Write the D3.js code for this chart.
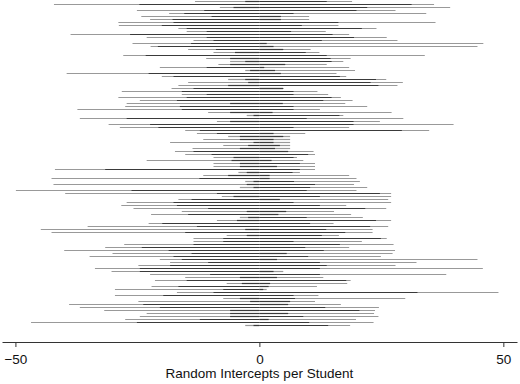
<!DOCTYPE html>
<html><head><meta charset="utf-8">
<script src="https://cdn.jsdelivr.net/npm/d3@7"></script>
<style>html,body{margin:0;padding:0;background:#fff;}svg{display:block;}</style>
</head><body>
<svg id="chart" width="520" height="384"></svg>
<script>
// Longest (outer) negative intercept per student row, top to bottom
const leftOuter = [
-13.2,-42.1,-8.1,-25.1,-18.5,-24.2,-22.4,-28.9,-28.8,-16.6,
-14.9,-38.7,-23.1,-13.5,-26.0,-22.3,-14.6,-9.4,-27.9,-10.9,
-6.0,-8.4,-20.4,-2.9,-39.5,-20.0,-6.4,-14.6,-16.6,-18.0,
-28.2,-15.9,-28.9,-24.5,-27.2,-27.5,-37.3,-10.5,-2.6,-36.8,
-8.7,-30.9,-28.6,-15.2,-12.8,-6.4,-11.5,-18.3,-7.4,-13.7,
-17.3,-15.2,-9.4,-23.1,-9.4,-9.4,-41.9,-4.3,-11.5,-42.6,
-2.9,-42.2,-4.0,-49.9,-39.8,-7.7,-16.6,-27.2,-28.3,-25.8,
-15.9,-22.2,-4.0,-8.7,-22.7,-35.2,-44.8,-42.6,-6.7,-13.5,
-13.5,-27.7,-31.6,-40.0,-30.1,-34.8,-20.4,-18.3,-24.8,-33.7,
-30.3,-22.4,-15.2,-21.4,-6.7,-22.1,-29.6,-16.9,-29.6,-7.4,
-24.8,-39.0,-36.8,-31.8,-23.1,-24.5,-27.5,-46.8,-2.9];
// Shorter (inner, overlapping) negative intercepts
const leftInner = [
-2.9,-24.6,-5.3,-11.3,-15.4,-9.8,-17.8,-17.6,-20.0,-14.9,
-10.8,-26.5,-10.8,-9.4,-14.0,-20.8,-8.9,-5.0,-23.3,-6.0,
-2.9,-6.0,-10.8,-1.9,-22.7,-17.6,-2.9,-2.3,-6.4,-13.5,
-15.9,-10.8,-14.9,-16.9,-6.0,-16.3,-15.9,-6.0,-1.2,-27.2,
-6.0,-22.4,-20.7,-12.2,-8.7,-4.0,-4.0,-1.2,-2.3,-4.0,
-13.5,-9.8,-5.3,-5.7,-4.0,-4.0,-31.6,-2.6,-6.4,-12.3,
-1.2,-2.6,-1.2,-26.2,-8.7,-5.3,-13.9,-17.6,-16.9,-10.5,
-2.6,-14.6,-2.3,-4.6,-19.9,-12.8,-2.9,-15.2,-2.6,-7.4,
-7.4,-13.5,-24.1,-18.6,-13.9,-17.6,-15.9,-10.5,-18.3,-24.5,
-24.5,-10.1,-4.0,-14.9,-3.6,-16.6,-7.4,-9.4,-19.7,-4.0,
-1.9,-23.8,-20.4,-6.0,-6.0,-6.0,-12.2,-25.1,-1.2];
// Longest (outer) positive intercept per student row
const rightOuter = [
19.0,35.8,39.1,27.9,34.2,10.2,10.2,36.1,16.2,24.0,
13.6,18.4,26.1,28.3,45.9,44.7,10.5,12.3,33.9,18.7,
17.2,13.8,18.4,19.6,15.8,17.8,26.0,29.4,28.3,4.9,
11.9,14.1,16.7,19.1,17.6,22.1,12.4,27.1,17.2,29.5,
24.7,39.8,18.4,34.8,9.4,6.3,6.3,6.3,6.3,6.3,
11.1,11.4,7.7,9.0,11.4,11.4,11.4,8.3,18.4,19.9,
20.6,19.4,22.1,19.9,27.0,27.0,26.4,27.0,17.8,26.0,
15.3,18.8,21.2,27.0,15.2,26.4,23.2,23.2,16.3,26.1,
21.0,27.5,18.4,27.8,27.3,24.9,44.7,32.2,27.9,45.8,
4.9,38.3,13.1,18.7,18.0,11.8,1.5,49.0,12.1,29.9,
11.4,16.7,24.5,23.7,23.5,24.4,19.8,23.4,18.6];
// Shorter (inner, overlapping) positive intercepts
const rightInner = [
13.8,31.2,22.1,19.9,7.0,4.4,4.4,16.2,8.7,21.0,
6.5,15.0,19.4,12.8,1.5,2.9,4.9,9.5,13.8,14.6,
14.8,5.3,1.0,3.2,4.4,16.5,23.9,22.8,24.4,4.9,
7.0,7.0,14.8,13.1,4.8,7.0,7.0,2.7,16.4,9.7,
19.3,19.3,7.0,29.2,2.9,4.9,2.9,2.9,4.2,3.2,
5.9,10.0,7.0,2.5,8.3,3.6,8.3,6.8,2.1,2.1,
7.1,11.4,10.4,9.7,24.7,12.4,4.2,7.0,12.4,21.7,
5.5,3.9,9.7,23.9,10.4,22.7,13.7,17.6,12.8,24.9,
7.0,16.5,9.4,13.2,5.6,10.0,3.6,12.4,13.8,12.4,
2.9,12.4,3.6,17.8,2.2,1.9,0.8,32.4,7.0,7.3,
6.3,5.9,13.5,20.5,5.9,9.0,1.9,10.2,14.1];
const tickValues = [-50, 0, 50];
const xTitle = "Random Intercepts per Student";

const svg = d3.select("#chart");
const n = Math.min(leftOuter.length, leftInner.length, rightOuter.length, rightInner.length);
const rows = d3.range(n);

const x = d3.scaleLinear().domain([-52.75, 52.8]).range([2, 517]);
const y = d3.scalePoint().domain(rows).range([1.5, 325.5]);

const layers = [
  {vals: leftOuter, color: "#999", w: 1.2},
  {vals: rightOuter, color: "#999", w: 1.2},
  {vals: leftInner, color: "#3a3a3a", w: 1.2},
  {vals: rightInner, color: "#3a3a3a", w: 1.2}
];
const g = svg.append("g");
layers.forEach(L => {
  g.append("g").selectAll("line").data(rows).join("line")
    .attr("x1", x(0)).attr("x2", i => x(L.vals[i]))
    .attr("y1", i => y(i)).attr("y2", i => y(i))
    .attr("stroke", L.color).attr("stroke-width", L.w);
});

const axis = d3.axisBottom(x).tickValues(tickValues).tickSize(5).tickSizeOuter(0).tickPadding(7);
const ax = svg.append("g").attr("transform", "translate(0,342)").call(axis);
ax.select(".domain").attr("stroke", "#333");
ax.selectAll(".tick line").attr("stroke", "#333");
ax.selectAll("text").attr("font-family", "Liberation Sans, Arial, sans-serif").attr("font-size", 13.5).attr("fill", "#111");

svg.append("text").attr("x", x(0)).attr("y", 378).attr("text-anchor", "middle")
  .attr("font-family", "Liberation Sans, Arial, sans-serif").attr("font-size", 13.5).attr("fill", "#111")
  .text(xTitle);
</script>
</body></html>
